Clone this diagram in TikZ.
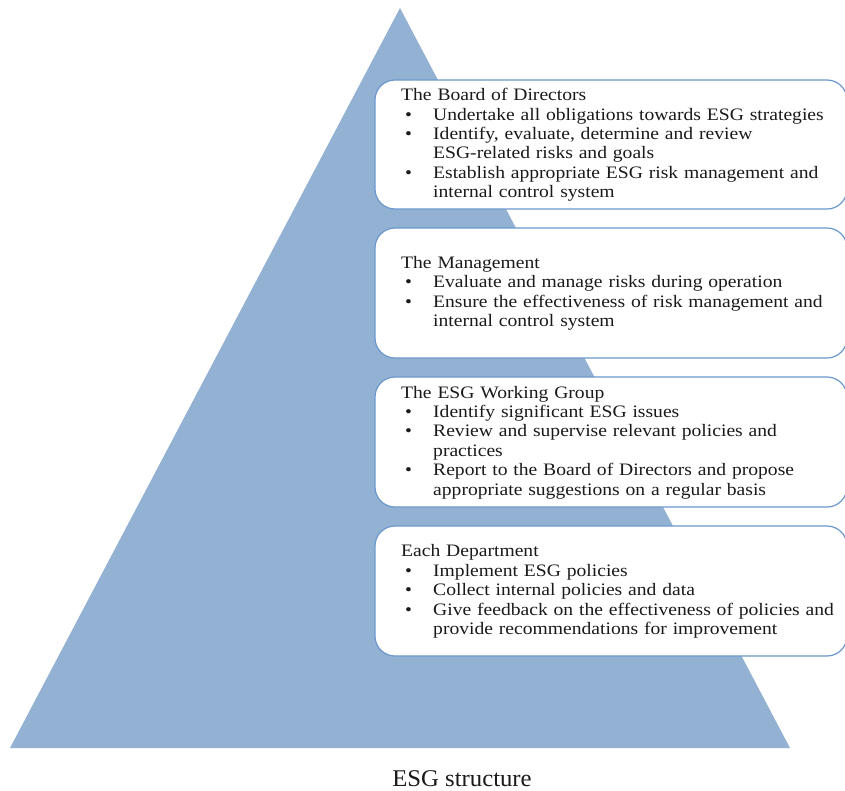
\documentclass[tikz,border=0pt]{standalone}
\usepackage{fontspec}
\setmainfont{Liberation Serif}[FakeStretch=1.12]
\newfontfamily\capfont{Liberation Serif}[FakeStretch=1.03]
\definecolor{tri}{HTML}{93B2D3}
\definecolor{bord}{HTML}{6B98CC}
\definecolor{ink}{HTML}{1A1A1A}
\newcommand{\bul}[1]{\par\hangindent=32pt\hangafter=1\noindent\makebox[32pt][l]{\hspace{4pt}\textbullet}#1}
\begin{document}
\begin{tikzpicture}[x=1pt,y=-1pt,
  panel/.style={draw=bord, line width=1.2pt, fill=white, rounded corners=20pt},
  txt/.style={anchor=west, inner sep=0pt, text width=440pt, font=\fontsize{17.5}{19.4}\selectfont, text=ink}]
\useasboundingbox (0,0) rectangle (845,790);
\fill[tri] (400,8) -- (10,748) -- (790,748) -- cycle;
\begin{scope}
\clip (0,0) rectangle (845,790);
\draw[panel] (375,80) rectangle (847,209);
\draw[panel] (375,228) rectangle (847,358);
\draw[panel] (375,377) rectangle (847,507);
\draw[panel] (375,526) rectangle (847,656);
\end{scope}
\coordinate (c1) at (401,145);
\coordinate (c2) at (401,293.5);
\coordinate (c3) at (401,442.5);
\coordinate (c4) at (401,591.5);
\node[txt] (t1) at (c1) {\raggedright\noindent The Board of Directors
\bul{Undertake all obligations towards ESG strategies}
\bul{Identify, evaluate, determine and review\newline ESG-related risks and goals}
\bul{Establish appropriate ESG risk management and\newline internal control system}\par};
\node[txt] (t2) at (c2) {\raggedright\noindent The Management
\bul{Evaluate and manage risks during operation}
\bul{Ensure the effectiveness of risk management and\newline internal control system}\par};
\node[txt] (t3) at (c3) {\raggedright\noindent The ESG Working Group
\bul{Identify significant ESG issues}
\bul{Review and supervise relevant policies and\newline practices}
\bul{Report to the Board of Directors and propose\newline appropriate suggestions on a regular basis}\par};
\node[txt] (t4) at (c4) {\raggedright\noindent Each Department
\bul{Implement ESG policies}
\bul{Collect internal policies and data}
\bul{Give feedback on the effectiveness of policies and\newline provide recommendations for improvement}\par};
\node[inner sep=0pt, anchor=base, text=ink, font=\capfont\fontsize{24}{26}\selectfont] (cap) at (462,786) {ESG structure};
\end{tikzpicture}
\end{document}
